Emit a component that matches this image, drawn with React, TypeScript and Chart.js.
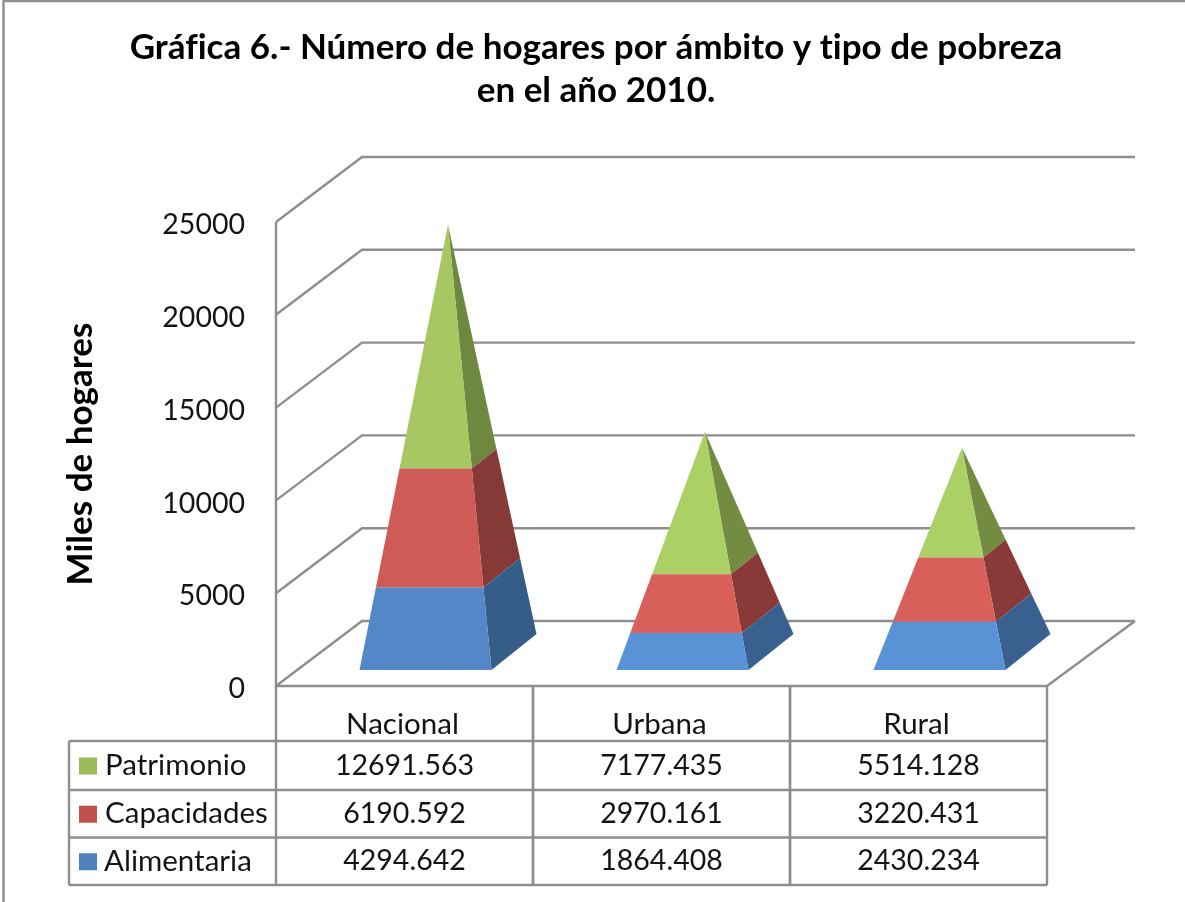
import React, { useEffect, useRef } from "react";
import { Chart, BarController, registerables } from "chart.js";

Chart.register(...registerables);

const categories = ["Nacional", "Urbana", "Rural"];
const patrimonio = [12691.563, 7177.435, 5514.128];
const capacidades = [6190.592, 2970.161, 3220.431];
const alimentaria = [4294.642, 1864.408, 2430.234];
const valueLabels = {
  Patrimonio: ["12691.563", "7177.435", "5514.128"],
  Capacidades: ["6190.592", "2970.161", "3220.431"],
  Alimentaria: ["4294.642", "1864.408", "2430.234"],
};
const tableRows = ["Patrimonio", "Capacidades", "Alimentaria"];
const keyColors = { Patrimonio: "#9bbb59", Capacidades: "#c0504d", Alimentaria: "#4f81bd" };
// one row per dataset (bottom to top), one entry per category
const frontColors = [
  ["#5487c8", "#5a92d6", "#5a92d6"],
  ["#cf5b57", "#d95f5b", "#d95f5b"],
  ["#a6c761", "#abd065", "#abd065"],
];
const sideColors = [
  ["#365c88", "#3a608f", "#3a608f"],
  ["#853a38", "#893a38", "#893a38"],
  ["#6f883f", "#748c42", "#748c42"],
];

const LINE = "#8e8e8e";
const FONT = "Lato, 'Noto Sans', sans-serif";
const TEXT = "#141414";

// projection of the 3D box, in pixels
const WALL_DX = 86;
const WALL_DY = 65;
const PYR = { front: 21, half: 66, depthX: 45, frontY: 16, backY: 52, apexX: 43.5, apexY: 31 };

class PyramidController extends BarController {
  static id = "pyramid";
  static defaults = { ...BarController.defaults };
  static overrides = BarController.overrides;
  draw() {
    const chart: any = (this as any).chart;
    const meta: any = (this as any)._cachedMeta;
    const ctx = chart.ctx;
    const y = chart.scales.y;
    const x = chart.scales.x;
    const y0 = y.getPixelForValue(0);
    const dsIndex = (this as any).index;
    meta.data.forEach((bar: any, i: number) => {
      const total = chart.data.datasets.reduce((s: number, d: any) => s + d.data[i], 0);
      const cx = x.getPixelForValue(i);
      const apex = { x: cx + PYR.apexX, y: y.getPixelForValue(total) - PYR.apexY };
      const fl = { x: cx + PYR.front - PYR.half, y: y0 - PYR.frontY };
      const fr = { x: cx + PYR.front + PYR.half, y: y0 - PYR.frontY };
      const br = { x: fr.x + PYR.depthX, y: y0 - PYR.backY };
      const hFull = y0 - y.getPixelForValue(total);
      const t0 = (y0 - bar.base) / hFull;
      const t1 = (y0 - bar.y) / hFull;
      const at = (p: any, t: number) => ({ x: p.x + (apex.x - p.x) * t, y: p.y + (apex.y - p.y) * t });
      const poly = (pts: any[], color: string) => {
        ctx.beginPath();
        pts.forEach((p, k) => (k ? ctx.lineTo(p.x, p.y) : ctx.moveTo(p.x, p.y)));
        ctx.closePath();
        ctx.fillStyle = color;
        ctx.fill();
      };
      poly([at(fr, t0), at(br, t0), at(br, t1), at(fr, t1)], sideColors[dsIndex][i]);
      poly([at(fl, t0), at(fr, t0), at(fr, t1), at(fl, t1)], frontColors[dsIndex][i]);
    });
  }
}
Chart.register(PyramidController as any);

const framePlugin = {
  id: "frame",
  beforeDraw(chart: any) {
    // no ti / fi ligatures: the reference font has none
    chart.ctx.letterSpacing = "0.01px";
  },
  beforeDatasetsDraw(chart: any) {
    const { ctx, scales } = chart;
    const y = scales.y;
    const left = chart.chartArea.left;
    const right = chart.chartArea.right;
    const bottom = y.getPixelForValue(0);
    ctx.save();
    ctx.strokeStyle = LINE;
    ctx.lineWidth = 2.4;
    // image frame
    ctx.beginPath();
    ctx.moveTo(3.5, 902);
    ctx.lineTo(3.5, 1);
    ctx.lineTo(1185, 1);
    ctx.stroke();
    // walls
    y.ticks.forEach((t: any) => {
      const py = y.getPixelForValue(t.value);
      ctx.beginPath();
      ctx.moveTo(left, py);
      ctx.lineTo(left + WALL_DX, py - WALL_DY);
      ctx.lineTo(right + WALL_DX + 2, py - WALL_DY);
      ctx.stroke();
    });
    ctx.beginPath();
    ctx.moveTo(left, y.getPixelForValue(25000));
    ctx.lineTo(left, bottom);
    ctx.lineTo(right, bottom);
    ctx.lineTo(right + WALL_DX + 2, bottom - WALL_DY);
    ctx.stroke();
    ctx.restore();
  },
  afterDatasetsDraw(chart: any) {
    const { ctx, scales } = chart;
    const x = scales.x;
    const left = chart.chartArea.left;
    const right = chart.chartArea.right;
    const top = chart.chartArea.bottom;
    const rowY = [741, 790, 837.5, 885];
    const tableLeft = 69;
    const colW = (right - left) / categories.length;
    ctx.save();
    ctx.strokeStyle = LINE;
    ctx.lineWidth = 2.4;
    rowY.forEach((ry) => {
      ctx.beginPath();
      ctx.moveTo(tableLeft, ry);
      ctx.lineTo(right, ry);
      ctx.stroke();
    });
    ctx.beginPath();
    ctx.moveTo(tableLeft, rowY[0]);
    ctx.lineTo(tableLeft, rowY[3]);
    ctx.stroke();
    categories.forEach((_, i) => {
      [left + colW * i, left + colW * (i + 1)].forEach((vx) => {
        ctx.beginPath();
        ctx.moveTo(vx, top);
        ctx.lineTo(vx, rowY[3]);
        ctx.stroke();
      });
    });
    ctx.textBaseline = "middle";
    tableRows.forEach((name, r) => {
      const my = (rowY[r] + rowY[r + 1]) / 2;
      ctx.fillStyle = keyColors[name];
      ctx.fillRect(79, my - 8, 18, 17);
      ctx.fillStyle = TEXT;
      ctx.textAlign = "left";
      ctx.font = `29.5px ${FONT}`;
      ctx.fillText(name, r === 2 ? 104 : 105, my);
      ctx.textAlign = "center";
      ctx.font = `28.5px ${FONT}`;
      valueLabels[name].forEach((v: string, i: number) => {
        ctx.fillText(v, x.getPixelForValue(i), my);
      });
    });
    ctx.restore();
  },
};

export default function App() {
  const ref = useRef<HTMLCanvasElement>(null);
  useEffect(() => {
    document.body.style.margin = "0";
    document.body.style.background = "#fff";
    const chart = new Chart(ref.current!, {
      type: "pyramid" as any,
      data: {
        labels: categories,
        datasets: [
          { label: "Alimentaria", data: alimentaria, backgroundColor: keyColors.Alimentaria, clip: false },
          { label: "Capacidades", data: capacidades, backgroundColor: keyColors.Capacidades, clip: false },
          { label: "Patrimonio", data: patrimonio, backgroundColor: keyColors.Patrimonio, clip: false },
        ] as any,
      },
      plugins: [framePlugin],
      options: {
        responsive: false,
        animation: false,
        layout: { padding: { left: 7 } },
        plugins: {
          legend: { display: false },
          tooltip: { enabled: false },
          title: {
            display: true,
            text: ["Gráfica 6.- Número de hogares por ámbito y tipo de pobreza", "en el año 2010."],
            color: "#000",
            font: { family: FONT, size: 35, weight: "bold", lineHeight: 1.23 },
            padding: { top: 26.5, bottom: 109.4 },
          },
        },
        scales: {
          x: {
            type: "category",
            stacked: true,
            grid: { display: false },
            border: { display: false },
            ticks: { color: TEXT, font: { family: FONT, size: 29.5 }, padding: 13, labelOffset: -2, maxRotation: 0 },
            afterFit(s: any) {
              s.height = 216;
            },
          },
          y: {
            type: "linear",
            stacked: true,
            min: 0,
            max: 25000,
            grid: { display: false },
            border: { display: false },
            ticks: {
              stepSize: 5000,
              color: TEXT,
              font: { family: FONT, size: 28.5 },
              padding: 23,
              labelOffset: 3,
              callback: (v: number) => String(v),
            },
            title: {
              display: true,
              text: "Miles de hogares",
              color: "#000",
              font: { family: FONT, size: 35, weight: "bold" },
              padding: { top: 53, bottom: 0 },
            },
            afterFit(s: any) {
              s.width = 269;
            },
          },
          spacer: {
            type: "linear",
            position: "right",
            display: true,
            grid: { display: false },
            border: { display: false },
            ticks: { display: false },
            afterFit(s: any) {
              s.width = 138;
            },
          },
        },
      } as any,
    });
    return () => chart.destroy();
  }, []);
  return <canvas ref={ref} width={1185} height={902} style={{ display: "block", filter: "blur(0.5px)" }} />;
}
